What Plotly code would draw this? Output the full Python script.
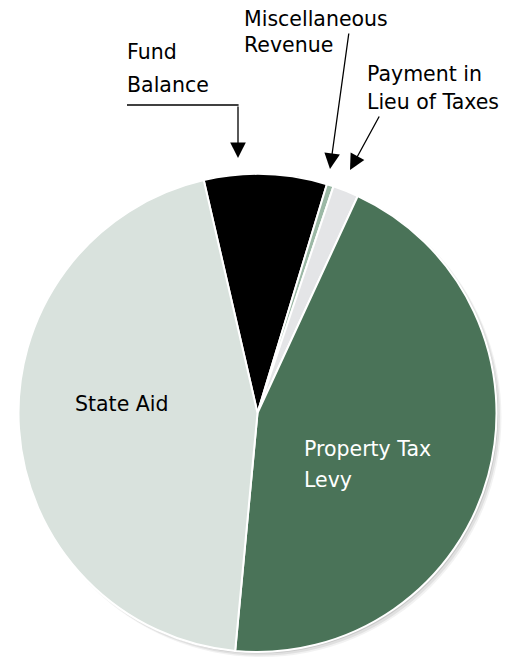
import plotly.graph_objects as go

W, H = 521, 658

labels = ["Fund Balance", "Miscellaneous Revenue", "Payment in Lieu of Taxes",
          "Property Tax Levy", "State Aid"]
values = [8.3, 0.46, 1.74, 44.6, 44.9]
colors = ["#000000", "#9bb8a5", "#e4e5e7", "#4a7358", "#d9e2dd"]

# pie geometry in pixels
cx, cy, r = 257.5, 413.0, 239.0


def px(x):
    return x / W


def py(y):
    return 1 - y / H


def dom(dx=0.0, dy=0.0, dr=0.0):
    return dict(x=[px(cx - r - dr + dx), px(cx + r + dr + dx)],
                y=[py(cy + r + dr + dy), py(cy - r - dr + dy)])


fig = go.Figure()

# soft shadow layers
for dx, dy, dr, a in [(4, 4, 1, 0.05), (3, 3, 0.5, 0.07), (1.5, 1.5, 0, 0.10)]:
    fig.add_trace(go.Pie(values=[1], labels=["shadow"], domain=dom(dx, dy, dr),
                         marker=dict(colors=[f"rgba(0,0,0,{a})"], line=dict(width=0)),
                         textinfo="none", hoverinfo="skip", showlegend=False, sort=False))

fig.add_trace(go.Pie(
    labels=labels, values=values, sort=False, direction="clockwise", rotation=-13.0,
    marker=dict(colors=colors, line=dict(color="white", width=2)),
    textinfo="none", hoverinfo="label+percent", showlegend=False, domain=dom()))

FONT = "'DejaVu Sans', sans-serif"
SIZE = 20.5
annotations = []


def text(x, baseline, t, color="black", size=SIZE):
    top = baseline - 1.03 * size
    annotations.append(dict(x=px(x), y=py(top), xref="paper", yref="paper", text=t,
                            showarrow=False, xanchor="left", yanchor="top", align="left",
                            font=dict(family=FONT, size=size, color=color)))


def arrow(x0, y0, x1, y1):
    # from tail (x0,y0) to tip (x1,y1)
    annotations.append(dict(x=px(x1), y=py(y1), xref="paper", yref="paper", text="",
                            showarrow=True, ax=x0 - x1, ay=y0 - y1, axref="pixel", ayref="pixel",
                            arrowhead=2, arrowsize=2.4, arrowwidth=1.3, arrowcolor="black",
                            standoff=0, startstandoff=0))


text(125, 59, "Fund")
text(125, 92, "Balance")
text(242, 26, "Miscellaneous")
text(242, 52, "Revenue")
text(365, 81, "Payment in")
text(365, 109, "Lieu of Taxes")
text(73, 411, "State Aid")
text(302, 456, "Property Tax", color="white")
text(302, 487, "Levy", color="white")

arrow(238, 105, 238, 158)
arrow(349, 32, 330, 169)
arrow(380, 115, 350, 170)

shapes = [dict(type="line", xref="paper", yref="paper", x0=px(127), y0=py(105),
               x1=px(238.6), y1=py(105), line=dict(color="black", width=1.3))]

fig.update_layout(width=W, height=H, margin=dict(l=0, r=0, t=0, b=0),
                  paper_bgcolor="white", plot_bgcolor="white",
                  annotations=annotations, shapes=shapes,
                  font=dict(family=FONT))

fig.write_html("out.html")
